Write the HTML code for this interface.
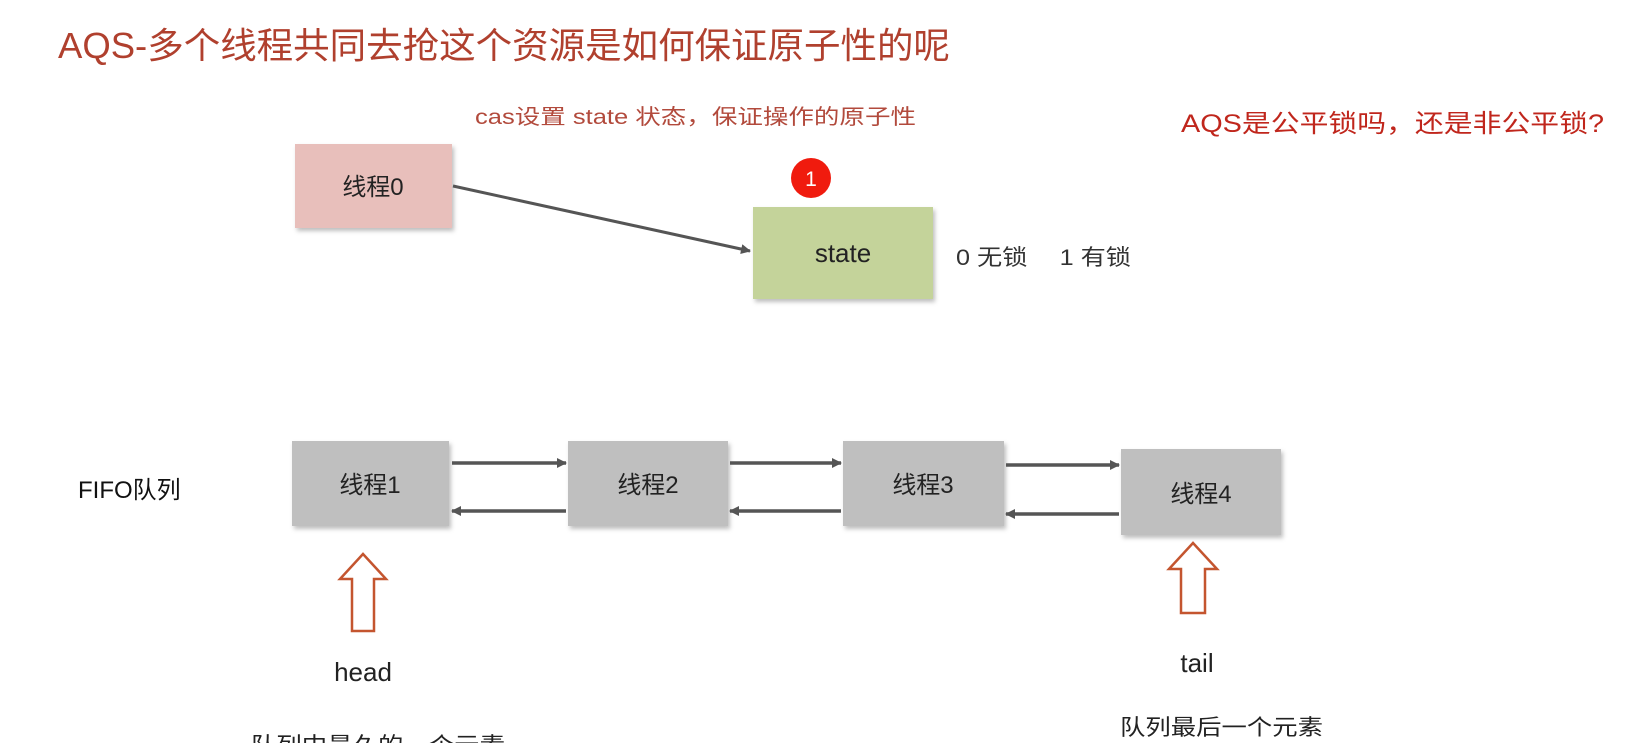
<!DOCTYPE html>
<html><head><meta charset="utf-8"><style>
html,body{margin:0;padding:0;background:#fff;}
svg{display:block;}
text{font-family:"Liberation Sans","Noto Sans CJK SC",sans-serif;}
</style></head><body>
<svg width="1630" height="743" viewBox="0 0 1630 743" xmlns="http://www.w3.org/2000/svg">
<defs>
<marker id="ah" markerWidth="10" markerHeight="10" refX="9" refY="5" orient="auto" markerUnits="userSpaceOnUse">
<path d="M0,0 L10,5 L0,10 z" fill="#555"/></marker>
<filter id="sh" x="-10%" y="-10%" width="130%" height="130%"><feDropShadow dx="2" dy="3" stdDeviation="2" flood-color="#000" flood-opacity="0.25"/></filter>
</defs>
<text x="58" y="58" font-size="36" fill="#b0402e" textLength="892" lengthAdjust="spacingAndGlyphs">AQS-多个线程共同去抢这个资源是如何保证原子性的呢</text>
<text x="475" y="124" font-size="21" fill="#b24a3c" textLength="441" lengthAdjust="spacingAndGlyphs">cas设置 state 状态，保证操作的原子性</text>
<text x="1181" y="132" font-size="25" fill="#c0261c" textLength="423" lengthAdjust="spacingAndGlyphs">AQS是公平锁吗，还是非公平锁?</text>

<rect x="295" y="144" width="157" height="84" fill="#e8bfbb" filter="url(#sh)"/>
<text x="373" y="195" font-size="24" fill="#222" text-anchor="middle">线程0</text>
<line x1="453" y1="186" x2="750" y2="251" stroke="#555" stroke-width="3" marker-end="url(#ah)"/>
<circle cx="811" cy="178" r="20" fill="#f01b0e"/>
<text x="811" y="186" font-size="21" fill="#fff" text-anchor="middle">1</text>
<rect x="753" y="207" width="180" height="92" fill="#c4d39a" filter="url(#sh)"/>
<text x="843" y="262" font-size="26" fill="#222" text-anchor="middle">state</text>
<text x="956" y="265" font-size="22" fill="#333" textLength="175" lengthAdjust="spacingAndGlyphs">0 无锁　 1 有锁</text>

<text x="78" y="498" font-size="24" fill="#111">FIFO队列</text>

<g filter="url(#sh)" fill="#bfbfbf">
<rect x="292" y="441" width="157" height="85"/>
<rect x="568" y="441" width="160" height="85"/>
<rect x="843" y="441" width="161" height="85"/>
<rect x="1121" y="449" width="160" height="86"/>
</g>
<g font-size="24" fill="#222" text-anchor="middle">
<text x="370" y="493">线程1</text>
<text x="648" y="493">线程2</text>
<text x="923" y="493">线程3</text>
<text x="1201" y="502">线程4</text>
</g>
<g stroke="#555" stroke-width="3.5">
<line x1="452" y1="463" x2="566" y2="463" marker-end="url(#ah)"/>
<line x1="566" y1="511" x2="452" y2="511" marker-end="url(#ah)"/>
<line x1="730" y1="463" x2="841" y2="463" marker-end="url(#ah)"/>
<line x1="841" y1="511" x2="730" y2="511" marker-end="url(#ah)"/>
<line x1="1006" y1="465" x2="1119" y2="465" marker-end="url(#ah)"/>
<line x1="1119" y1="514" x2="1006" y2="514" marker-end="url(#ah)"/>
</g>

<path d="M363,554 L386,579 L374,579 L374,631 L352,631 L352,579 L340,579 Z" fill="#fff" stroke="#c4552f" stroke-width="2.5"/>
<path d="M1193,543 L1217,569 L1205,569 L1205,613 L1181,613 L1181,569 L1169,569 Z" fill="#fff" stroke="#c4552f" stroke-width="2.5"/>

<text x="363" y="681" font-size="26" fill="#222" text-anchor="middle">head</text>
<text x="1197" y="672" font-size="26" fill="#222" text-anchor="middle">tail</text>
<text x="251" y="753" font-size="22" fill="#222" textLength="254" lengthAdjust="spacingAndGlyphs">队列中最久的一个元素</text>
<text x="1120" y="735" font-size="22" fill="#222" textLength="203" lengthAdjust="spacingAndGlyphs">队列最后一个元素</text>
</svg>
</body></html>
